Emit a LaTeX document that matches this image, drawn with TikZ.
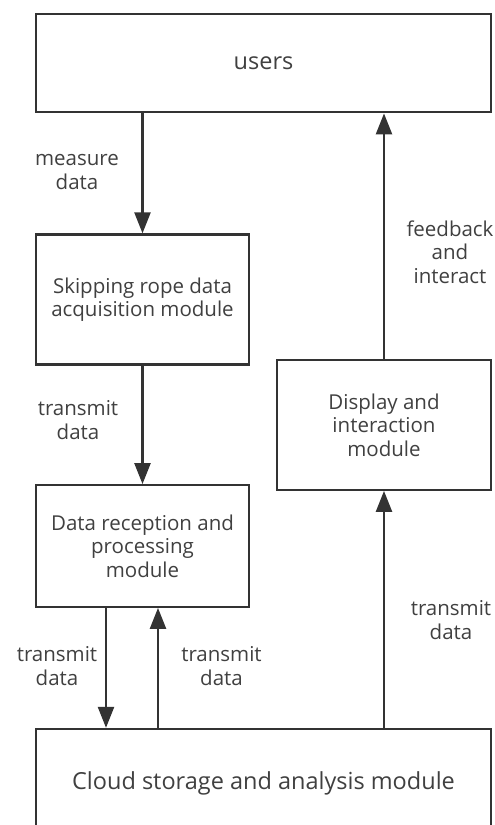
\documentclass[tikz,border=0pt]{standalone}
\usepackage{fontspec}
\setmainfont{Open Sans}
\usetikzlibrary{arrows.meta}
\definecolor{linegray}{HTML}{333333}
\definecolor{textgray}{HTML}{404040}
\begin{document}
\begin{tikzpicture}[x=1pt,y=-1pt,
  box/.style={draw=linegray, line width=2.4pt, align=center, text=textgray, inner sep=0pt,
    font=\fontsize{20.5}{23.5}\selectfont},
  bigbox/.style={box, minimum width=455pt, font=\fontsize{23.5}{26}\selectfont},
  midbox/.style={box, minimum width=213pt},
  lbl/.style={align=center, text=textgray, inner sep=0pt, font=\fontsize{20.5}{23.5}\selectfont},
  flow/.style={draw=linegray, line width=2.4pt, -{Triangle[width=16pt,length=21pt]}}]
  \useasboundingbox (0,0) rectangle (495,825);
  \clip (0,0) rectangle (495,825);
  \node[bigbox, minimum height=98.5pt] (users) at (263.5,63) {users};
  \node[midbox, minimum height=130pt] (skip) at (142.5,299.5) {Skipping rope data\\acquisition module};
  \node[midbox, minimum height=121.5pt] (recv) at (142.5,546) {Data reception and\\processing\\module};
  \node[box, minimum width=214.5pt, minimum height=129.5pt] (disp) at (384,425) {Display and\\interaction\\module};
  \node[bigbox, minimum height=108pt] (cloud) at (263.5,783) {Cloud storage and analysis module};
  \coordinate (dn) at ([xshift=-36.5pt]recv.south);
  \coordinate (up) at ([xshift=15.5pt]recv.south);
  \draw[flow] (users.south -| skip.north) -- (skip.north);
  \draw[flow] (skip.south) -- (recv.north);
  \draw[flow] (dn) -- (dn |- cloud.north);
  \draw[flow] (up |- cloud.north) -- (up);
  \draw[flow] (cloud.north -| disp.south) -- (disp.south);
  \draw[flow] (disp.north) -- (disp.north |- users.south);
  \node[lbl] (lmeasure) at (77,172) {measure\\data};
  \node[lbl] (lfeed) at (450,252) {feedback\\and\\interact};
  \node[lbl] (lskip) at (78,420) {transmit\\data};
  \node[lbl] (ldown) at (57,666) {transmit\\data};
  \node[lbl] (lup) at (221.5,666) {transmit\\data};
  \node[lbl] (ldisp) at (451,620) {transmit\\data};
\end{tikzpicture}
\end{document}
